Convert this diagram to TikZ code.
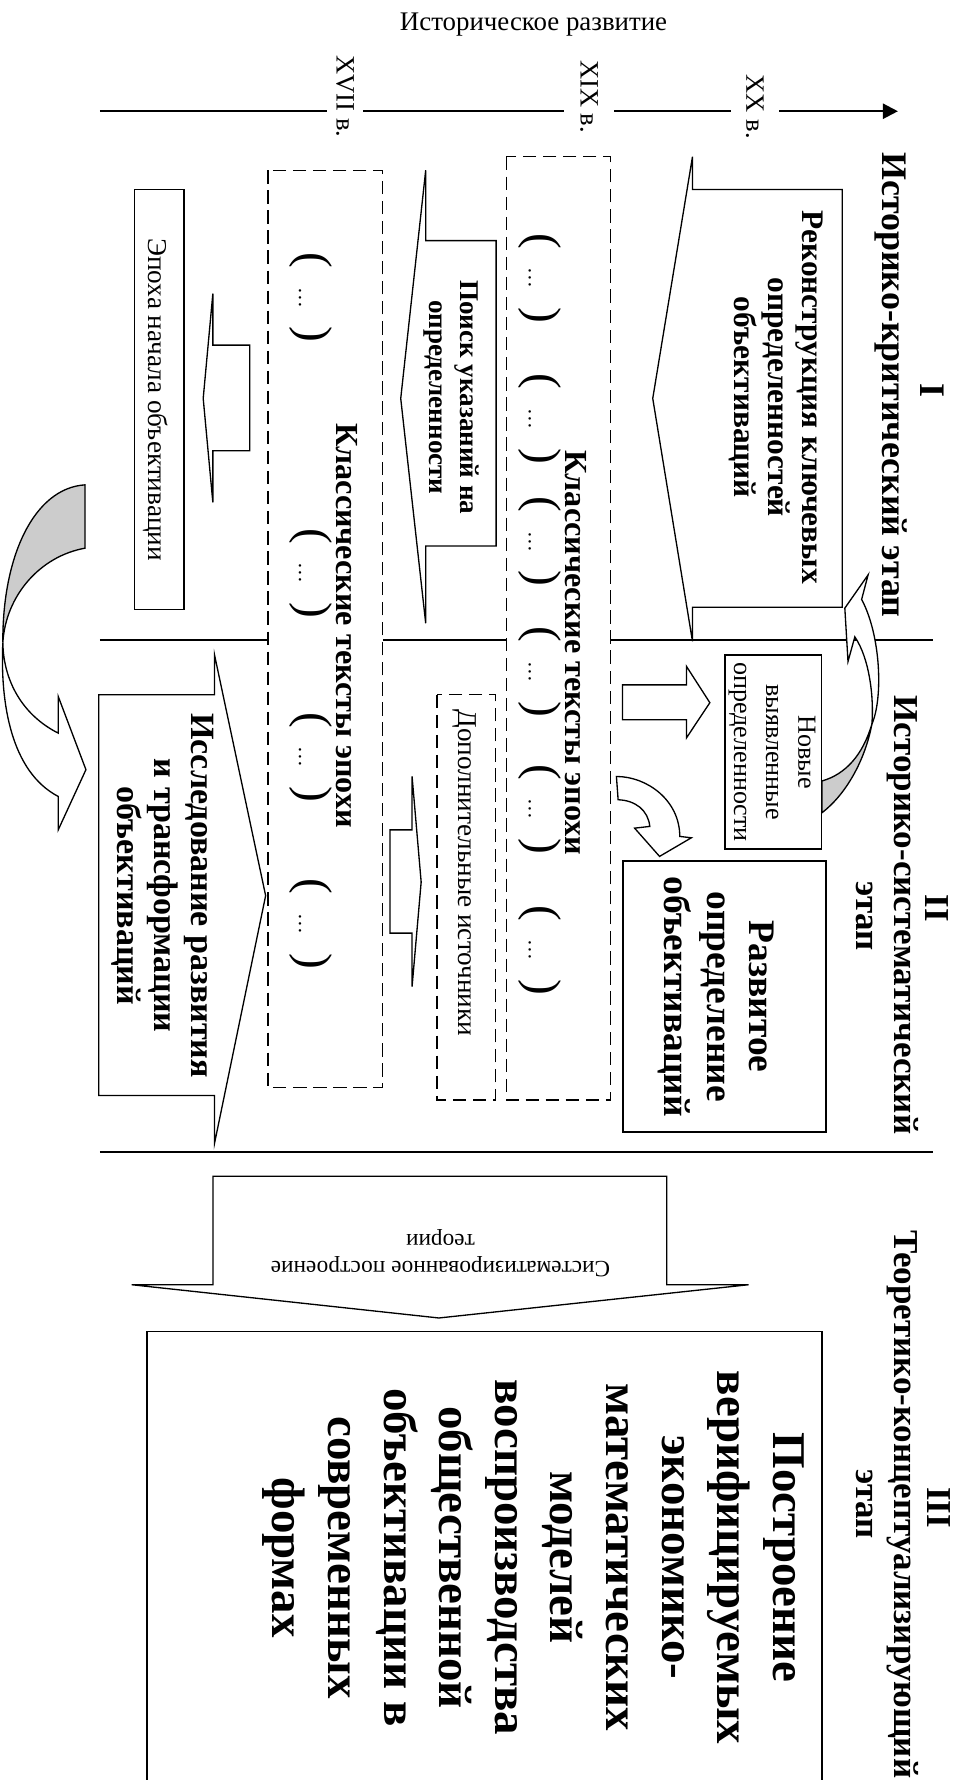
\documentclass[tikz,border=0pt]{standalone}
\usepackage{fontspec}
\setmainfont{Liberation Serif}
\usetikzlibrary{arrows.meta}

\newcommand{\fsz}[2]{\fontsize{#1}{#2}\selectfont}
\newcommand{\grp}{{\fsz{25}{25}(}\hspace{10pt}{\fsz{11}{11}…}\hspace{10pt}{\fsz{25}{25})}}

\tikzset{
	box/.style={draw,fill=white},
	dbox/.style={draw,fill=white,dash pattern=on 7pt off 3.6pt},
	vtext/.style={rotate=-90,align=center,inner sep=0pt},
	band/.style={line width=0.9pt},
}

\begin{document}
\begin{tikzpicture}[x=0.6pt,y=-0.6pt,line width=0.7pt,line join=miter]
		\useasboundingbox (0,0) rectangle (849,1568);
		%
		\draw[band] (88,564) -- (822,564);
		\draw[band] (88,1015) -- (822,1015);
		%
		\draw[line width=1.2pt,-{Triangle[length=8pt,width=8pt]}] (88,98) -- (791,98);
		\node[font=\fsz{14.2}{16}] (hist) at (470,22) {Историческое развитие};
		\node[vtext,fill=white,inner ysep=5pt,font=\fsz{14}{16}] (c17) at (304,85) {XVII в.};
		\node[vtext,fill=white,inner ysep=8.5pt,font=\fsz{14}{16}] (c19) at (519,85) {XIX в.};
		\node[vtext,fill=white,inner ysep=8pt,font=\fsz{14}{16}] (c20) at (665,94) {XX в.};
		%
		\node[vtext,font=\fsz{19}{21}\bfseries] (n1) at (821,344) {I};
		\node[vtext,font=\fsz{19}{21}\bfseries] (st1) at (785,339) {Историко-критический этап};
		\node[vtext,font=\fsz{18.5}{21}\bfseries] (n2) at (825,800) {II};
		\node[vtext,font=\fsz{18.5}{21}\bfseries] (st2) at (795,806) {Историко-систематический};
		\node[vtext,font=\fsz{18.5}{21}\bfseries] (st2b) at (762,807) {этап};
		\node[vtext,font=\fsz{18.5}{21}\bfseries] (n3) at (827,1328) {III};
		\node[vtext,font=\fsz{18.5}{21}\bfseries] (st3) at (795,1325) {Теоретико-концептуализирующий};
		\node[vtext,font=\fsz{18.5}{21}\bfseries] (st3b) at (762,1325) {этап};
		%
		\draw[dbox] (236,150) rectangle (337,958);
		\draw[dbox] (446,138) rectangle (538,969);
		\draw[dbox] (385,612) rectangle (436.5,969);
		\node[vtext,font=\fsz{17}{20}\bfseries] (klA) at (305.5,551) {Классические тексты эпохи};
		\node[vtext,font=\fsz{17}{20}\bfseries] (klB) at (507,575) {Классические тексты эпохи};
		\foreach \y in {262,505,667,814}
			\node[vtext] (gA\y) at (273.5,\y) {\grp};
		\foreach \y in {245,369,477,592,713,837}
			\node[vtext] (gB\y) at (476,\y) {\grp};
		\node[vtext,font=\fsz{14.4}{17}] (dop) at (409,769) {Дополнительные источники};
		%
		\draw[box] (118.5,166.7) rectangle (162,537);
		\node[vtext,font=\fsz{14.4}{17}] (epoha) at (137,352) {Эпоха начала объективации};
		\draw[box] (187.5,258.6) -- (179,351) -- (187.5,442.6) -- (187.5,397) -- (220,397) -- (220,304) -- (187.5,304) -- cycle;
		\draw[box] (375,150) -- (353,351) -- (375,549) -- (375,481) -- (437,481) -- (437,212) -- (375,212) -- cycle;
		\node[vtext,font=\fsz{14.3}{16.5}\bfseries] (poisk) at (398,350) {Поиск указаний на\\определенности};
		\draw[box] (610,138) -- (575,351) -- (610,565) -- (610,535) -- (742,535) -- (742,167) -- (610,167) -- cycle;
		\node[vtext,font=\fsz{16.6}{18}\bfseries] (rekon) at (684,350) {Реконструкция ключевых\\определенностей\\объективаций};
		%
		\draw[box] (189,577) -- (234,789) -- (189,1007) -- (189,965) -- (87,965) -- (87,612) -- (189,612) -- cycle;
		\node[vtext,font=\fsz{18}{19.6}\bfseries] (issled) at (143,789) {Исследование развития\\и трансформации\\объективаций};
		\draw[box] (363,684) -- (371,777) -- (363,869) -- (363,822) -- (343.5,822) -- (343.5,731) -- (363,731) -- cycle;
		\draw[box] (604.7,587) -- (625.3,619) -- (604.7,650) -- (604.7,634) -- (548.4,634) -- (548.4,603.3) -- (604.7,603.3) -- cycle;
		\draw[box] (638.5,577) rectangle (723.6,748);
		\node[vtext,font=\fsz{13.8}{17}] (novye) at (680,662.5) {Новые\\выявленные\\определенности};
		\draw[box,line width=1.1pt] (548.4,758.8) rectangle (728,997.5);
		\node[vtext,font=\fsz{19.8}{22.5}\bfseries] (razv) at (631,878) {Развитое\\определение\\объективаций};
		%
		\draw[box] (543,684) .. controls (570,684) and (598.8,705) .. (598.8,736.8) -- (609,738) -- (581,754.4) -- (559,729.5) -- (572.4,728) .. controls (571,714) and (560,705) .. (544.5,704.5) -- cycle;
		\draw[box,fill=gray!40] (768,638) .. controls (760,665) and (745,682) .. (724,688) -- (724,716) .. controls (745,700) and (762,670) .. (768,638) -- cycle;
		\draw[box] (768,638) .. controls (778,615) and (776,560) .. (759,528) -- (764.7,506.4) -- (744.2,535.7) -- (747,582.7) -- (753,561) .. controls (766,580) and (770,615) .. (768,638) -- cycle;
		\draw[box,fill=gray!40] (74.9,427.1) .. controls (30,430) and (2,490) .. (2.5,566) .. controls (5,525) and (35,490) .. (74.9,482.9) -- cycle;
		\draw[box] (2.5,566) .. controls (0,620) and (10,680) .. (51.3,701.6) -- (51.3,731) -- (75.7,678) -- (51.3,613.5) -- (51.3,645.8) .. controls (20,630) and (3,600) .. (2.5,566) -- cycle;
		%
		\draw[box] (116,1131.7) -- (386.6,1161) -- (659.5,1131.7) -- (587.4,1131.7) -- (587.4,1036.2) -- (187.6,1036.2) -- (187.6,1131.7) -- cycle;
		\node[rotate=180,align=center,inner sep=0pt,font=\fsz{12.3}{13.8}] (sistem) at (388,1104) {Систематизированное построение\\теории};
		\draw[box] (129.4,1172.8) rectangle (724,1580);
		\node[vtext,font=\fsz{24.8}{29.4}\bfseries] (postr) at (470,1372) {Построение\\верифицируемых\\экономико-\\математических\\моделей\\воспроизводства\\общественной\\объективации в\\современных\\формах};
\end{tikzpicture}
\end{document}
